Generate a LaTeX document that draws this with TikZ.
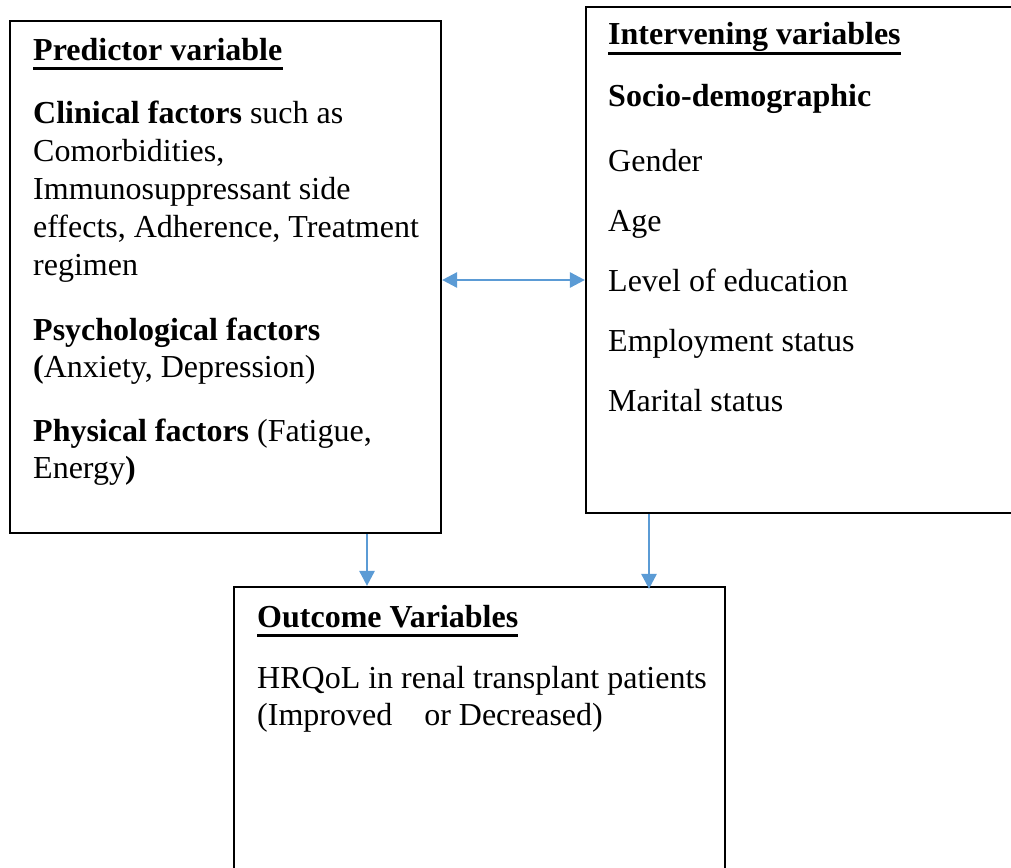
\documentclass[tikz,border=0pt]{standalone}
\usepackage{fontspec}
\setmainfont{Liberation Serif}
\usetikzlibrary{arrows.meta}

\definecolor{arrowblue}{RGB}{91,155,213}

\tikzset{
  varbox/.style={draw,line width=2.2pt,inner sep=0pt},
  txt/.style={anchor=base west,inner sep=0pt,font=\fontsize{32}{38}\selectfont},
  head/.style={anchor=base west,inner sep=0pt,font=\fontsize{32}{38}\selectfont\bfseries},
  headrule/.style={line width=3pt},
  link/.style={draw=arrowblue,line width=2.7pt,-{Triangle[length=15pt,width=15pt]}},
  dlink/.style={link,{Triangle[length=15pt,width=15pt]}-{Triangle[length=15pt,width=15pt]}}
}

\begin{document}
\begin{tikzpicture}[x=1pt,y=-1pt]
\useasboundingbox (0,0) rectangle (1011,867);
\clip (0,0) rectangle (1011,867);
% the three boxes
\node[varbox,minimum width=431pt,minimum height=512pt] (pred) at (225.5,277) {};
\node[varbox,minimum width=454pt,minimum height=506pt] (interv) at (813,260) {};
\node[varbox,minimum width=491pt,minimum height=333pt] (outc) at (479.5,753.5) {};
% predictor text
\node[head] (predhead) at (33,60) {Predictor variable};
\node[txt] (clin1) at (33,123) {\textbf{Clinical factors} such as};
\node[txt] (clin2) at (33,161) {Comorbidities,};
\node[txt] (clin3) at (33,199) {Immunosuppressant side};
\node[txt] (clin4) at (33,237) {effects, Adherence, Treatment};
\node[txt] (clin5) at (33,275) {regimen};
\node[txt] (psy1) at (33,340) {\textbf{Psychological factors}};
\node[txt] (psy2) at (33,377) {\textbf{(}Anxiety, Depression)};
\node[txt] (phys1) at (33,441) {\textbf{Physical factors} (Fatigue,};
\node[txt] (phys2) at (33,478) {Energy\textbf{)}};
% intervening text
\node[head] (intervhead) at (608,45) {Intervening variables};
\node[txt] (socio) at (608,106) {\textbf{Socio-demographic}};
\node[txt] (gender) at (608,171) {Gender};
\node[txt] (age) at (608,231) {Age};
\node[txt] (educ) at (608,291) {Level of education};
\node[txt] (employ) at (608,351) {Employment status};
\node[txt] (marital) at (608,411) {Marital status};
% outcome text
\node[head] (outchead) at (257,627) {Outcome Variables};
\node[txt] (hrqol1) at (257,688) {HRQoL in renal transplant patients};
\node[txt] (hrqol2) at (257,725) {(Improved\quad or Decreased)};
% heading underlines
\foreach \h in {predhead,intervhead,outchead}
  \draw[headrule] ([yshift=-8.5pt]\h.base west) -- ([yshift=-8.5pt]\h.base east);
% arrows
\draw[dlink] (pred.east |- 0,280) -- (interv.west |- 0,280);
\draw[link] (pred.south -| 367,0) -- (outc.north -| 367,0);
\draw[link] (interv.south -| 649,0) -- ([yshift=-3pt]outc.north -| 649,0);
\end{tikzpicture}
\end{document}
